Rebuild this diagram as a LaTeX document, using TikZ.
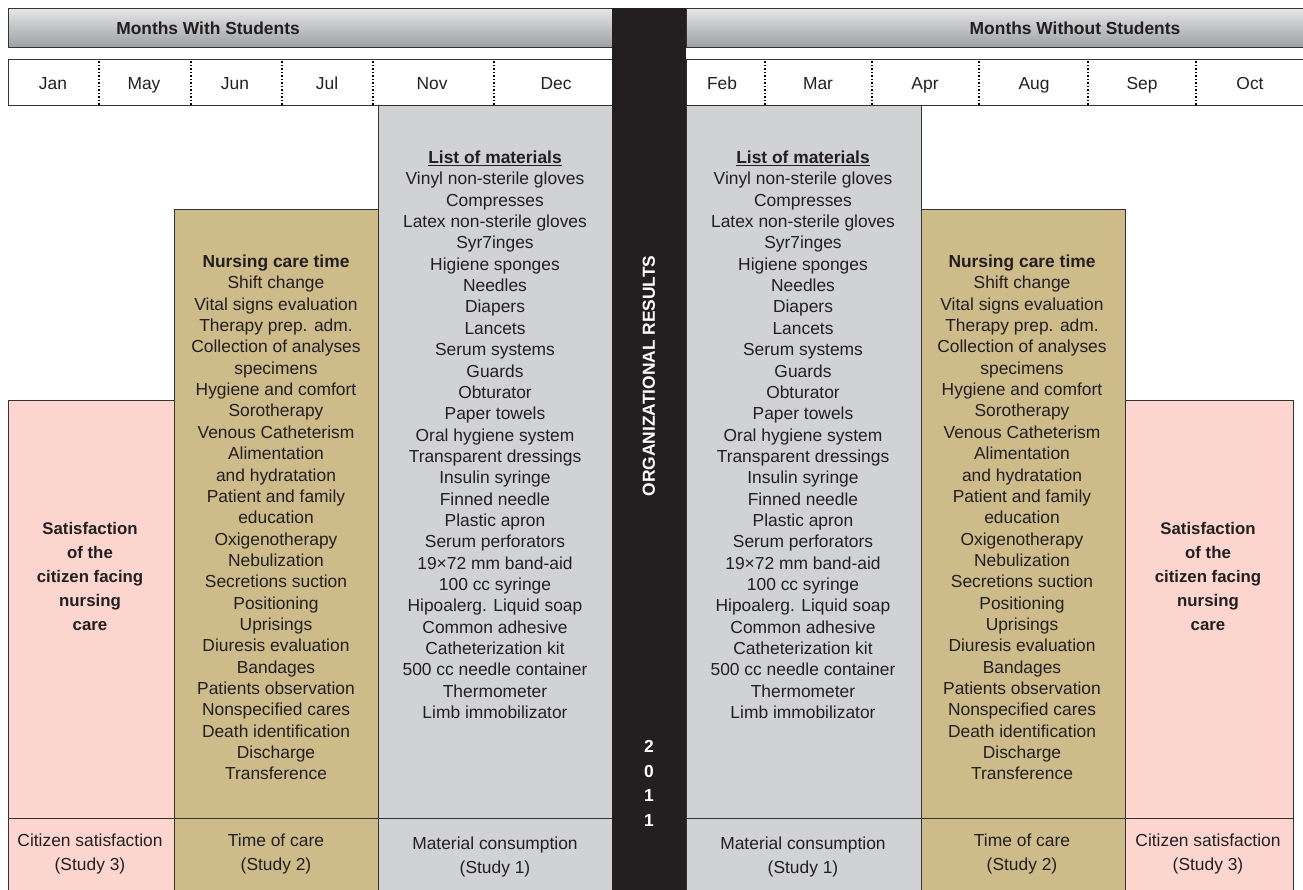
\documentclass[tikz,border=0pt]{standalone}
\usepackage{fontspec}
\setmainfont{Liberation Sans}
\definecolor{pinkc}{HTML}{FCD5CF}
\definecolor{tanc}{HTML}{CDBB8A}
\definecolor{grayc}{HTML}{D1D2D4}
\definecolor{blackc}{HTML}{231F20}
\definecolor{txtc}{HTML}{231F20}
\definecolor{linec}{HTML}{333333}
\definecolor{hdrtop}{HTML}{E4E5E6}
\definecolor{hdrbot}{HTML}{9C9EA1}
\newcommand{\fsz}{\fontsize{17.4}{21.35}\selectfont}
\newcommand{\fst}{\rule{0pt}{14pt}}
\tikzset{
  hdr/.style={draw=linec, line width=1pt, top color=hdrtop, bottom color=hdrbot},
  mrow/.style={draw=linec, fill=white, line width=1pt},
  sepline/.style={draw=black, line width=1.5pt, dash pattern=on 1.5pt off 2pt},
  colbox/.style={draw=linec, line width=1pt},
  txt/.style={text=txtc, font=\fsz, align=center, inner sep=0pt},
  mon/.style={txt, anchor=base},
  lst/.style={txt, anchor=north},
  sat/.style={text=txtc, font=\fontsize{16.8}{24}\selectfont\bfseries, align=center, inner sep=0pt, anchor=north},
  bot/.style={text=txtc, font=\fontsize{17.4}{23.5}\selectfont, align=center, inner sep=0pt, anchor=north},
}
\begin{document}
\begin{tikzpicture}[x=1pt,y=-1pt]
\useasboundingbox (0,0) rectangle (1303,890);
% headers
\path[hdr] (8,9) rectangle (612,48);
\path[hdr] (686,9) rectangle (1304,48);
\node[txt, font=\fsz\bfseries, anchor=base] (hl) at (208,34.5) {Months With Students};
\node[txt, font=\fsz\bfseries, anchor=base] (hr) at (1075,34.5) {Months Without Students};
% month rows
\path[mrow] (8,60) rectangle (612,106);
\path[mrow] (686,60) rectangle (1304,106);
\foreach \x in {99,191,282,373,494,765,872,979,1088,1196}
  \draw[sepline] (\x,61.5) -- (\x,105);
\foreach \m/\x in {Jan/53,May/144,Jun/235,Jul/327,Nov/432,Dec/556,Feb/722,Mar/818,Apr/925,Aug/1034,Sep/1142,Oct/1250}
  \node[mon] (m\m) at (\x,89.5) {\m};
% columns
\path[colbox, fill=pinkc] (8,400) rectangle (174,892);
\path[colbox, fill=tanc] (174,210) rectangle (378,892);
\path[colbox, fill=grayc] (378,106) rectangle (612,892);
\path[colbox, fill=grayc] (686,106) rectangle (921,892);
\path[colbox, fill=tanc] (921,210) rectangle (1125,892);
\path[colbox, fill=pinkc] (1125,400) rectangle (1293,892);
\draw[linec, line width=1pt] (8,818) -- (612,818);
\draw[linec, line width=1pt] (686,818) -- (1293,818);
% black bar
\fill[blackc] (612,8) rectangle (686,892);
\node[text=white, font=\fontsize{17.4}{20}\selectfont\bfseries, rotate=90, inner sep=0pt] (org) at (649,376) {ORGANIZATIONAL RESULTS};
\node[text=white, font=\fontsize{17.4}{24.7}\selectfont\bfseries, align=center, inner sep=0pt, anchor=north] (yr) at (649,738.3) {\fst2\\0\\1\\1};
% materials lists
\foreach \nm/\x in {matL/495,matR/803}
\node[lst] (\nm) at (\x,149.3) {\fst\textbf{\underline{List of materials}}\\
Vinyl non-sterile gloves\\Compresses\\Latex non-sterile gloves\\Syr7inges\\Higiene sponges\\Needles\\Diapers\\Lancets\\Serum systems\\Guards\\Obturator\\Paper towels\\Oral hygiene system\\Transparent dressings\\Insulin syringe\\Finned needle\\Plastic apron\\Serum perforators\\19×72 mm band-aid\\100 cc syringe\\Hipoalerg. Liquid soap\\Common adhesive\\Catheterization kit\\500 cc needle container\\Thermometer\\Limb immobilizator};
% nursing lists
\foreach \nm/\x in {nurL/276,nurR/1022}
\node[lst] (\nm) at (\x,253.3) {\fst\textbf{Nursing care time}\\
Shift change\\Vital signs evaluation\\Therapy prep. adm.\\Collection of analyses\\specimens\\Hygiene and comfort\\Sorotherapy\\Venous Catheterism\\Alimentation\\and hydratation\\Patient and family\\education\\Oxigenotherapy\\Nebulization\\Secretions suction\\Positioning\\Uprisings\\Diuresis evaluation\\Bandages\\Patients observation\\Nonspecified cares\\Death identification\\Discharge\\Transference};
% satisfaction
\node[sat] (satL) at (90,520.3) {\fst Satisfaction\\of the\\citizen facing\\nursing\\care};
\node[sat] (satR) at (1208,520.3) {\fst Satisfaction\\of the\\citizen facing\\nursing\\care};
% bottom labels
\node[bot] (bpL) at (90,832.3) {\fst Citizen satisfaction\\(Study 3)};
\node[bot] (btL) at (276,832.3) {\fst Time of care\\(Study 2)};
\node[bot] (bgL) at (495,835.3) {\fst Material consumption\\(Study 1)};
\node[bot] (bgR) at (803,835.3) {\fst Material consumption\\(Study 1)};
\node[bot] (btR) at (1022,832.3) {\fst Time of care\\(Study 2)};
\node[bot] (bpR) at (1208,832.3) {\fst Citizen satisfaction\\(Study 3)};
\end{tikzpicture}
\end{document}
